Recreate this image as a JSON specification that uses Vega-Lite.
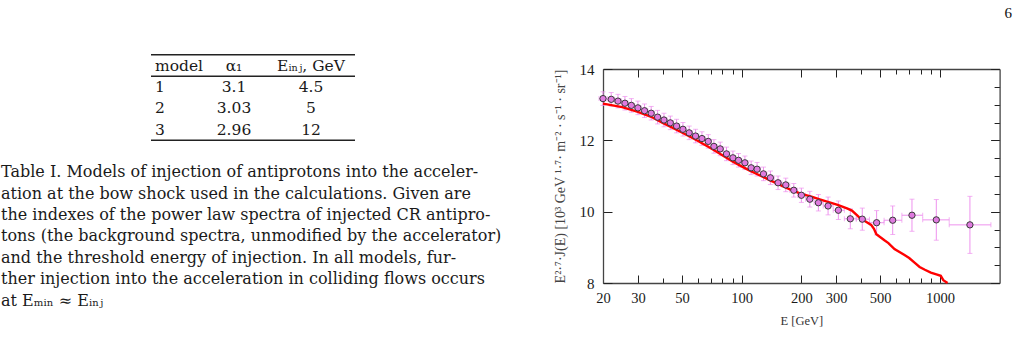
{
  "$schema": "https://vega.github.io/schema/vega-lite/v6.json",
  "padding": {"left": 1, "top": 6, "right": 0, "bottom": 0},
  "spacing": 32,
  "config": {"view": {"stroke": null}, "font": "Liberation Serif"},
  "datasets": {
    "pts": [
      {"E": 20, "v": 13.17, "lo": 12.98, "hi": 13.36, "Elo": 19.1, "Ehi": 20.98},
      {"E": 22, "v": 13.15, "lo": 12.96, "hi": 13.34, "Elo": 20.98, "Ehi": 22.88},
      {"E": 23.8, "v": 13.1, "lo": 12.91, "hi": 13.29, "Elo": 22.88, "Ehi": 24.78},
      {"E": 25.8, "v": 13.04, "lo": 12.85, "hi": 13.23, "Elo": 24.78, "Ehi": 26.78},
      {"E": 27.8, "v": 12.98, "lo": 12.79, "hi": 13.17, "Elo": 26.78, "Ehi": 28.88},
      {"E": 30, "v": 12.91, "lo": 12.72, "hi": 13.1, "Elo": 28.88, "Ehi": 31.18},
      {"E": 32.4, "v": 12.83, "lo": 12.64, "hi": 13.02, "Elo": 31.18, "Ehi": 33.67},
      {"E": 35, "v": 12.76, "lo": 12.57, "hi": 12.95, "Elo": 33.67, "Ehi": 36.32},
      {"E": 37.7, "v": 12.65, "lo": 12.46, "hi": 12.84, "Elo": 36.32, "Ehi": 39.12},
      {"E": 40.6, "v": 12.57, "lo": 12.38, "hi": 12.76, "Elo": 39.12, "Ehi": 42.12},
      {"E": 43.7, "v": 12.49, "lo": 12.3, "hi": 12.68, "Elo": 42.12, "Ehi": 45.32},
      {"E": 47, "v": 12.4, "lo": 12.21, "hi": 12.59, "Elo": 45.32, "Ehi": 48.77},
      {"E": 50.6, "v": 12.31, "lo": 12.12, "hi": 12.5, "Elo": 48.77, "Ehi": 52.47},
      {"E": 54.4, "v": 12.21, "lo": 12.02, "hi": 12.4, "Elo": 52.47, "Ehi": 56.46},
      {"E": 58.6, "v": 12.12, "lo": 11.93, "hi": 12.31, "Elo": 56.46, "Ehi": 60.81},
      {"E": 63.1, "v": 12.05, "lo": 11.86, "hi": 12.24, "Elo": 60.81, "Ehi": 65.46},
      {"E": 67.9, "v": 11.97, "lo": 11.78, "hi": 12.16, "Elo": 65.46, "Ehi": 70.16},
      {"E": 72.5, "v": 11.83, "lo": 11.64, "hi": 12.02, "Elo": 70.16, "Ehi": 75.2},
      {"E": 78, "v": 11.76, "lo": 11.57, "hi": 11.95, "Elo": 75.2, "Ehi": 80.9},
      {"E": 83.9, "v": 11.62, "lo": 11.43, "hi": 11.81, "Elo": 80.9, "Ehi": 87.09},
      {"E": 90.4, "v": 11.51, "lo": 11.32, "hi": 11.7, "Elo": 87.09, "Ehi": 93.4},
      {"E": 96.5, "v": 11.44, "lo": 11.25, "hi": 11.63, "Elo": 93.4, "Ehi": 100.13},
      {"E": 103.9, "v": 11.37, "lo": 11.18, "hi": 11.56, "Elo": 100.13, "Ehi": 107.73},
      {"E": 111.7, "v": 11.23, "lo": 11.04, "hi": 11.42, "Elo": 107.73, "Ehi": 115.63},
      {"E": 119.7, "v": 11.19, "lo": 11.0, "hi": 11.38, "Elo": 115.63, "Ehi": 124.21},
      {"E": 128.9, "v": 11.06, "lo": 10.87, "hi": 11.25, "Elo": 124.21, "Ehi": 134.19},
      {"E": 139.7, "v": 10.95, "lo": 10.76, "hi": 11.14, "Elo": 134.19, "Ehi": 146.06},
      {"E": 152.7, "v": 10.81, "lo": 10.62, "hi": 11.0, "Elo": 146.06, "Ehi": 159.69},
      {"E": 167, "v": 10.75, "lo": 10.56, "hi": 10.94, "Elo": 159.69, "Ehi": 174.96},
      {"E": 183.3, "v": 10.6, "lo": 10.41, "hi": 10.79, "Elo": 174.96, "Ehi": 191.56},
      {"E": 200.2, "v": 10.46, "lo": 10.26, "hi": 10.66, "Elo": 191.56, "Ehi": 210.25},
      {"E": 220.8, "v": 10.35, "lo": 10.13, "hi": 10.57, "Elo": 210.25, "Ehi": 232.06},
      {"E": 243.9, "v": 10.25, "lo": 10.02, "hi": 10.48, "Elo": 232.06, "Ehi": 258},
      {"E": 272.9, "v": 10.16, "lo": 9.91, "hi": 10.41, "Elo": 258, "Ehi": 289.7},
      {"E": 307.6, "v": 10.04, "lo": 9.78, "hi": 10.3, "Elo": 289.7, "Ehi": 329.7},
      {"E": 353.3, "v": 9.8, "lo": 9.52, "hi": 10.08, "Elo": 329.7, "Ehi": 378.7},
      {"E": 406, "v": 9.79, "lo": 9.48, "hi": 10.1, "Elo": 378.7, "Ehi": 441.3},
      {"E": 479.6, "v": 9.69, "lo": 9.35, "hi": 10.03, "Elo": 441.3, "Ehi": 523},
      {"E": 578, "v": 9.76, "lo": 9.36, "hi": 10.16, "Elo": 523, "Ehi": 643},
      {"E": 723, "v": 9.9, "lo": 9.45, "hi": 10.35, "Elo": 643, "Ehi": 819},
      {"E": 959, "v": 9.77, "lo": 9.2, "hi": 10.34, "Elo": 819, "Ehi": 1114},
      {"E": 1417, "v": 9.63, "lo": 8.83, "hi": 10.43, "Elo": 1114, "Ehi": 1808}
    ],
    "model": [
      {"E": 20, "J": 13.03}, {"E": 25, "J": 12.93}, {"E": 30, "J": 12.8}, {"E": 35, "J": 12.66},
      {"E": 40, "J": 12.49}, {"E": 45, "J": 12.35}, {"E": 50, "J": 12.22}, {"E": 55, "J": 12.1},
      {"E": 60, "J": 11.99}, {"E": 70, "J": 11.78}, {"E": 80, "J": 11.58}, {"E": 90, "J": 11.41},
      {"E": 100, "J": 11.27}, {"E": 110, "J": 11.15}, {"E": 120, "J": 11.05}, {"E": 130, "J": 10.96},
      {"E": 140, "J": 10.87}, {"E": 150, "J": 10.8}, {"E": 160, "J": 10.72}, {"E": 180, "J": 10.6},
      {"E": 200, "J": 10.5}, {"E": 225, "J": 10.42}, {"E": 250, "J": 10.34}, {"E": 275, "J": 10.27},
      {"E": 305, "J": 10.19}, {"E": 340, "J": 10.09}, {"E": 360, "J": 10.03}, {"E": 385, "J": 9.88},
      {"E": 400, "J": 9.79}, {"E": 420, "J": 9.73}, {"E": 450, "J": 9.63}, {"E": 465, "J": 9.52},
      {"E": 478, "J": 9.37}, {"E": 525, "J": 9.2}, {"E": 550, "J": 9.12}, {"E": 590, "J": 8.95},
      {"E": 660, "J": 8.79}, {"E": 700, "J": 8.7}, {"E": 745, "J": 8.57}, {"E": 790, "J": 8.45},
      {"E": 840, "J": 8.37}, {"E": 900, "J": 8.29}, {"E": 960, "J": 8.24}, {"E": 1010, "J": 8.2},
      {"E": 1040, "J": 8.08}, {"E": 1093, "J": 8.0}
    ],
    "page": [
      {"row": 0, "col": 1, "t": "model"},
      {"row": 0, "col": 2, "t": "α₁"},
      {"row": 0, "col": 3, "t": "Eᵢₙⱼ, GeV"},
      {"row": 1, "col": 1, "t": "1"}, {"row": 1, "col": 2, "t": "3.1"}, {"row": 1, "col": 3, "t": "4.5"},
      {"row": 2, "col": 1, "t": "2"}, {"row": 2, "col": 2, "t": "3.03"}, {"row": 2, "col": 3, "t": "5"},
      {"row": 3, "col": 1, "t": "3"}, {"row": 3, "col": 2, "t": "2.96"}, {"row": 3, "col": 3, "t": "12"},
      {"row": 5, "col": 0, "t": "Table I. Models of injection of antiprotons into the acceler-"},
      {"row": 6, "col": 0, "t": "ation at the bow shock used in the calculations.  Given are"},
      {"row": 7, "col": 0, "t": "the indexes of the power law spectra of injected CR antipro-"},
      {"row": 8, "col": 0, "t": "tons (the background spectra, unmodified by the accelerator)"},
      {"row": 9, "col": 0, "t": "and the threshold energy of injection.  In all models, fur-"},
      {"row": 10, "col": 0, "t": "ther injection into the acceleration in colliding flows occurs"},
      {"row": 11, "col": 0, "t": "at Eₘᵢₙ ≈ Eᵢₙⱼ"}
    ],
    "rules": [{"row": -0.5, "c1": 1, "c2": 4}, {"row": 0.5, "c1": 1, "c2": 4}, {"row": 3.5, "c1": 1, "c2": 4}]
  },
  "hconcat": [
    {
      "width": 520,
      "height": 230,
      "encoding": {
        "y": {"field": "row", "type": "quantitative", "scale": {"domain": [0, 11], "range": [-3.5, 231.5]}, "axis": null}
      },
      "layer": [
        {
          "data": {"name": "rules"},
          "mark": {"type": "rule", "color": "#222", "strokeWidth": 1.4},
          "encoding": {
            "x": {"field": "c1", "type": "quantitative", "scale": {"domain": [0, 1, 2, 3, 4], "range": [0, 150, 233, 310, 354]}, "axis": null},
            "x2": {"field": "c2"}
          }
        },
        {
          "data": {"name": "page"},
          "transform": [{"filter": "datum.col == 0"}],
          "mark": {"type": "text", "align": "left", "baseline": "middle", "font": "DejaVu Serif", "fontSize": 16, "color": "#1a1a1a"},
          "encoding": {"x": {"field": "col", "type": "quantitative"}, "text": {"field": "t"}}
        },
        {
          "data": {"name": "page"},
          "transform": [{"filter": "datum.col == 1"}],
          "mark": {"type": "text", "align": "left", "dx": 4, "baseline": "middle", "font": "DejaVu Serif", "fontSize": 15.5, "color": "#1a1a1a"},
          "encoding": {"x": {"field": "col", "type": "quantitative"}, "text": {"field": "t"}}
        },
        {
          "data": {"name": "page"},
          "transform": [{"filter": "datum.col >= 2"}],
          "mark": {"type": "text", "align": "center", "baseline": "middle", "font": "DejaVu Serif", "fontSize": 15.5, "color": "#1a1a1a"},
          "encoding": {"x": {"field": "col", "type": "quantitative"}, "text": {"field": "t"}}
        }
      ]
    },
    {
      "width": 396.6,
      "height": 214,
      "title": {"text": "6", "anchor": "end", "orient": "top", "offset": 39, "dx": 12, "fontSize": 15, "fontWeight": "normal", "font": "Liberation Serif", "color": "#111"},
      "resolve": {"axis": {"x": "independent", "y": "independent"}},
      "layer": [
        {
          "layer": [
            {
              "data": {"name": "pts"},
              "mark": {"type": "rule", "color": "#ee92ee", "strokeWidth": 1},
              "encoding": {
                "x": {"field": "E", "type": "quantitative",
                  "scale": {"type": "log", "domain": [20, 2000], "nice": false},
                  "axis": {"orient": "bottom", "values": [20, 30, 40, 50, 60, 70, 80, 90, 100, 200, 300, 400, 500, 600, 700, 800, 900, 1000],
                    "format": "d",
                    "labelExpr": "indexof([20,30,50,100,200,300,500,1000], datum.value) >= 0 ? datum.label : ''",
                    "tickSize": {"condition": {"test": "indexof([20,30,50,100,200,300,500,1000], datum.value) >= 0", "value": -8}, "value": -5},
                    "labelPadding": 16, "labelFontSize": 14.5, "labelColor": "#1a1a1a", "labelFlush": false, "labelOverlap": false,
                    "tickColor": "#222", "tickWidth": 1, "domainColor": "#444", "domainWidth": 1.3, "grid": false,
                    "title": "E [GeV]", "titleFontSize": 12.5, "titleFontWeight": "normal", "titleColor": "#333", "titlePadding": 7}},
                "y": {"field": "lo", "type": "quantitative",
                  "scale": {"domain": [8, 14], "nice": false, "zero": false},
                  "axis": {"orient": "left", "values": [8, 8.5, 9, 9.5, 10, 10.5, 11, 11.5, 12, 12.5, 13, 13.5, 14],
                    "labelExpr": "datum.value % 2 == 0 ? datum.label : ''",
                    "tickSize": {"condition": {"test": "datum.value % 2 == 0", "value": -9}, "value": -5.5},
                    "labelPadding": 18, "labelFontSize": 15, "labelColor": "#1a1a1a", "labelOverlap": false,
                    "tickColor": "#222", "tickWidth": 1, "domainColor": "#444", "domainWidth": 1.3, "grid": false,
                    "title": "E²·⁷·J(E)      [10³ GeV ¹·⁷· m⁻² · s⁻¹ · sr⁻¹]", "titleFontSize": 14, "titleFontWeight": "normal", "titleColor": "#444", "titlePadding": 12}},
                "y2": {"field": "hi"}
              }
            },
            {
              "data": {"name": "pts"},
              "mark": {"type": "tick", "orient": "horizontal", "color": "#ee92ee", "size": 5, "thickness": 1},
              "encoding": {"x": {"field": "E", "type": "quantitative"}, "y": {"field": "lo", "type": "quantitative"}}
            },
            {
              "data": {"name": "pts"},
              "mark": {"type": "tick", "orient": "horizontal", "color": "#ee92ee", "size": 5, "thickness": 1},
              "encoding": {"x": {"field": "E", "type": "quantitative"}, "y": {"field": "hi", "type": "quantitative"}}
            },
            {
              "data": {"name": "pts"},
              "mark": {"type": "rule", "color": "#ee92ee", "strokeWidth": 1},
              "encoding": {"x": {"field": "Elo", "type": "quantitative"}, "x2": {"field": "Ehi"}, "y": {"field": "v", "type": "quantitative"}}
            },
            {
              "data": {"name": "pts"},
              "mark": {"type": "tick", "orient": "vertical", "color": "#ee92ee", "size": 5, "thickness": 1},
              "encoding": {"x": {"field": "Elo", "type": "quantitative"}, "y": {"field": "v", "type": "quantitative"}}
            },
            {
              "data": {"name": "pts"},
              "mark": {"type": "tick", "orient": "vertical", "color": "#ee92ee", "size": 5, "thickness": 1},
              "encoding": {"x": {"field": "Ehi", "type": "quantitative"}, "y": {"field": "v", "type": "quantitative"}}
            },
            {
              "data": {"name": "model"},
              "mark": {"type": "line", "color": "#ff0000", "strokeWidth": 2.4},
              "encoding": {"x": {"field": "E", "type": "quantitative"}, "y": {"field": "J", "type": "quantitative"}}
            },
            {
              "data": {"name": "pts"},
              "mark": {"type": "point", "filled": true, "fill": "#e07be0", "stroke": "#3a3a3a", "strokeWidth": 1, "size": 40, "opacity": 1},
              "encoding": {"x": {"field": "E", "type": "quantitative"}, "y": {"field": "v", "type": "quantitative"}}
            }
          ]
        },
        {
          "data": {"name": "pts"},
          "mark": {"type": "point", "opacity": 0},
          "encoding": {
            "x": {"field": "E", "type": "quantitative", "scale": {"type": "log", "domain": [20, 2000], "nice": false},
              "axis": {"orient": "top", "values": [20, 30, 40, 50, 60, 70, 80, 90, 100, 200, 300, 400, 500, 600, 700, 800, 900, 1000],
                "labels": false,
                "tickSize": {"condition": {"test": "indexof([20,30,50,100,200,300,500,1000], datum.value) >= 0", "value": -8}, "value": -5},
                "tickColor": "#222", "tickWidth": 1, "domainColor": "#444", "domainWidth": 1.3, "grid": false, "title": null}},
            "y": {"field": "v", "type": "quantitative", "scale": {"domain": [8, 14], "nice": false, "zero": false},
              "axis": {"orient": "right", "values": [8, 8.5, 9, 9.5, 10, 10.5, 11, 11.5, 12, 12.5, 13, 13.5, 14],
                "labels": false,
                "tickSize": {"condition": {"test": "datum.value % 2 == 0", "value": -9}, "value": -5.5},
                "tickColor": "#222", "tickWidth": 1, "domainColor": "#444", "domainWidth": 1.3, "grid": false, "title": null}}
          }
        }
      ]
    }
  ]
}
